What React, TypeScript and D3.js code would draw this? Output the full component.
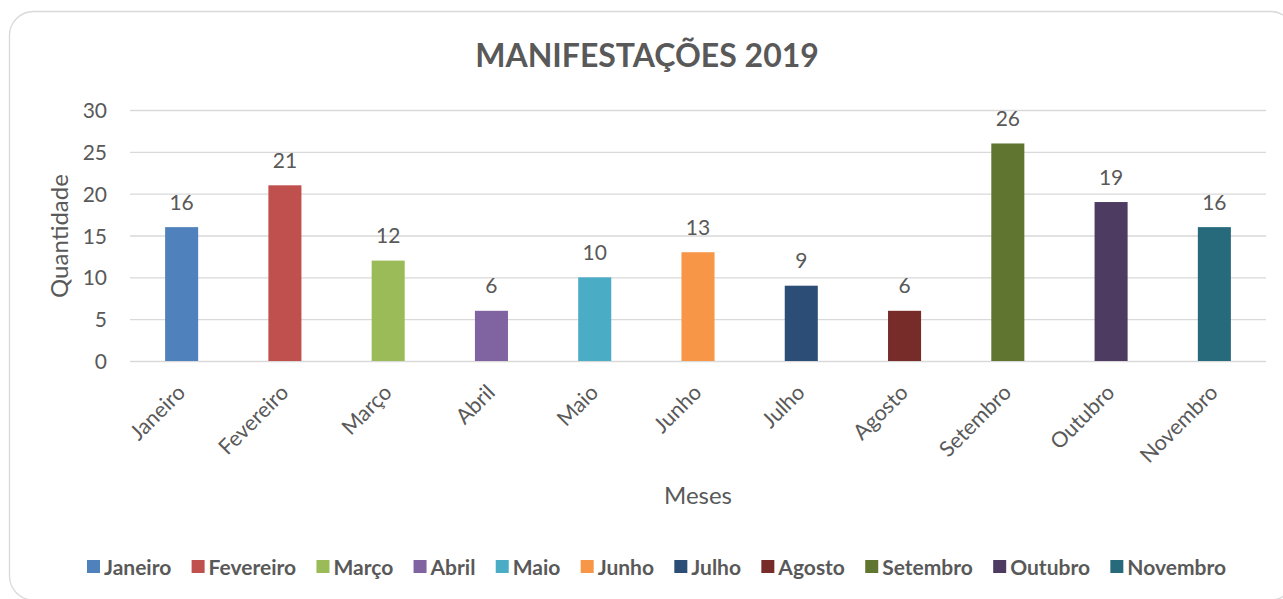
import React, { useEffect, useRef } from "react";
import * as d3 from "d3";

const categories = ["Janeiro", "Fevereiro", "Março", "Abril", "Maio", "Junho", "Julho", "Agosto", "Setembro", "Outubro", "Novembro"];
const values = [16, 21, 12, 6, 10, 13, 9, 6, 26, 19, 16];
const colors = ["#4F81BD", "#C0504D", "#9BBB59", "#8064A2", "#4BACC6", "#F79646", "#2C4D75", "#772C2A", "#5F7530", "#4D3B62", "#276A7C"];
const yTicks = [0, 5, 10, 15, 20, 25, 30];
const title = "MANIFESTAÇÕES 2019";
const xTitle = "Meses";
const yTitle = "Quantidade";

const W = 1283;
const H = 599;
const FONT = "Lato, 'Open Sans', sans-serif";
const TEXT = "#595959";

export default function App() {
  const ref = useRef<SVGSVGElement>(null);

  useEffect(() => {
    const svg = d3.select(ref.current);
    svg.selectAll("*").remove();

    svg.append("rect")
      .attr("x", 9.5).attr("y", 11.5)
      .attr("width", 1285).attr("height", 588.5)
      .attr("rx", 24).attr("ry", 24)
      .attr("fill", "#fff").attr("stroke", "#d9d9d9").attr("stroke-width", 1.3);

    const x = d3.scaleBand<string>().domain(categories).range([130, 1266]).paddingInner(0.68).paddingOuter(0.34);
    const y = d3.scaleLinear().domain([0, 30]).range([361, 110]);

    // title
    svg.append("text")
      .attr("x", 647).attr("y", 67)
      .attr("text-anchor", "middle")
      .attr("font-family", FONT).attr("font-weight", 700).attr("font-size", 32)
      .attr("fill", TEXT).text(title);

    // gridlines
    svg.append("g").selectAll("line").data(yTicks).join("line")
      .attr("x1", 130).attr("x2", 1266)
      .attr("y1", d => y(d) + 0.5).attr("y2", d => y(d) + 0.5)
      .attr("stroke", "#d9d9d9").attr("stroke-width", 1.3);

    // y tick labels
    svg.append("g").selectAll("text").data(yTicks).join("text")
      .attr("x", 107).attr("y", d => y(d) + 0.5).attr("dy", "0.36em")
      .attr("text-anchor", "end")
      .attr("font-family", FONT).attr("font-size", 21).attr("fill", TEXT)
      .text(d => String(d));

    // bars
    svg.append("g").selectAll("rect").data(categories).join("rect")
      .attr("x", d => x(d)!)
      .attr("width", x.bandwidth())
      .attr("y", (d, i) => y(values[i]))
      .attr("height", (d, i) => y(0) - y(values[i]))
      .attr("fill", (d, i) => colors[i]);

    // data labels
    svg.append("g").selectAll("text").data(categories).join("text")
      .attr("x", d => x(d)! + x.bandwidth() / 2)
      .attr("y", (d, i) => y(values[i]) - 17.5)
      .attr("text-anchor", "middle")
      .attr("font-family", FONT).attr("font-size", 21).attr("fill", TEXT)
      .text((d, i) => String(values[i]));

    // x labels
    svg.append("g").selectAll("text").data(categories).join("text")
      .attr("transform", d => `translate(${x(d)! + x.bandwidth() / 2},389) rotate(-45)`)
      .attr("dy", "0.32em")
      .attr("text-anchor", "end")
      .attr("font-family", FONT).attr("font-size", 21.5).attr("fill", TEXT)
      .text(d => d);

    // axis titles
    svg.append("text")
      .attr("x", 698).attr("y", 504)
      .attr("text-anchor", "middle")
      .attr("font-family", FONT).attr("font-size", 24).attr("fill", TEXT)
      .text(xTitle);
    svg.append("text")
      .attr("transform", "translate(68,236) rotate(-90)")
      .attr("text-anchor", "middle")
      .attr("font-family", FONT).attr("font-size", 24).attr("fill", TEXT)
      .text(yTitle);

    // legend
    const lg = svg.append("g");
    const sq = 13, gapText = 4;
    const items = lg.selectAll("g").data(categories).join("g");
    items.append("rect").attr("width", sq).attr("height", sq).attr("y", 560).attr("fill", (d, i) => colors[i]);
    const texts = items.append("text")
      .attr("y", 567).attr("dy", "0.36em")
      .attr("font-family", FONT).attr("font-weight", 700).attr("font-size", 21).attr("fill", TEXT)
      .text(d => d);
    const widths: number[] = [];
    texts.each(function () { widths.push((this as SVGTextElement).getComputedTextLength()); });
    const left = 87, right = 1226;
    const sumItems = d3.sum(widths) + categories.length * (sq + gapText);
    const gap = (right - left - sumItems) / (categories.length - 1);
    let cx = left;
    items.each(function (d, i) {
      const g = d3.select(this);
      g.select("rect").attr("x", cx);
      g.select("text").attr("x", cx + sq + gapText);
      cx += sq + gapText + widths[i] + gap;
    });
  }, []);

  return (
    <svg ref={ref} width={W} height={H} style={{ position: "absolute", left: 0, top: 0, background: "#fff" }} />
  );
}
